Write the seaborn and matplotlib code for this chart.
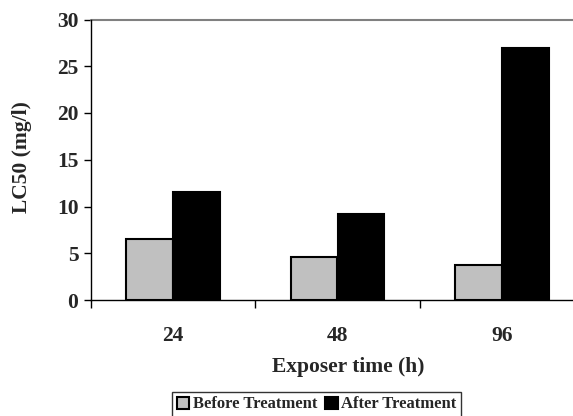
import pandas as pd
import matplotlib
matplotlib.use("Agg")
import matplotlib.pyplot as plt
import seaborn as sns

# data
times = ["24", "48", "96"]
before_treatment = [6.5, 4.6, 3.7]
after_treatment = [11.6, 9.2, 26.9]
series_names = ["Before Treatment", "After Treatment"]
y_ticks = [0, 5, 10, 15, 20, 25, 30]

df = pd.DataFrame({
    "time": times * 2,
    "LC50": before_treatment + after_treatment,
    "group": [series_names[0]] * 3 + [series_names[1]] * 3,
})

sns.set_style("white")
plt.rcParams["font.family"] = ["Liberation Serif", "DejaVu Serif"]
plt.rcParams["font.weight"] = "bold"

W, H = 573, 416
fig = plt.figure(figsize=(W / 100, H / 100), dpi=100)
ax = fig.add_axes([91 / W, (H - 300) / H, (584 - 91) / W, (300 - 19.5) / H])

sns.barplot(
    data=df, x="time", y="LC50", hue="group",
    palette=["#c0c0c0", "#000000"],
    width=0.57, edgecolor="black", linewidth=1.5,
    saturation=1, ax=ax, legend=True,
)

ax.set_ylim(0, 30)
ax.set_xlim(-0.5, 2.5)
ax.set_yticks(y_ticks)
ax.set_xticks([0, 1, 2])
ax.set_xticks([-0.5, 0.5, 1.5, 2.5], minor=True)
ax.tick_params(axis="x", which="major", length=0, pad=19, labelsize=15.5)
ax.tick_params(axis="x", which="minor", length=6, width=1, direction="out", color="black", bottom=True)
ax.tick_params(axis="y", length=5, width=1, direction="out", color="black", left=True, pad=4, labelsize=15.5)
for lab in ax.get_xticklabels() + ax.get_yticklabels():
    lab.set_fontweight("bold")

ax.axhline(30, color="#808080", linewidth=1.5, clip_on=False)
for side in ["top", "right"]:
    ax.spines[side].set_visible(False)
for side in ["left", "bottom"]:
    ax.spines[side].set_color("black")
    ax.spines[side].set_linewidth(1)

ax.set_xlabel("")
ax.set_ylabel("")
fig.text(22 / W, 1 - 157 / H, "LC50 (mg/l)", rotation=90, ha="center", va="center",
         fontsize=15.5, fontweight="bold")
fig.text(348 / W, 1 - 367 / H, "Exposer time (h)", ha="center", va="center",
         fontsize=15.5, fontweight="bold")

handles, labels = ax.get_legend_handles_labels()
ax.get_legend().remove()
leg = fig.legend(
    handles, labels, loc="upper center", bbox_to_anchor=(316.5 / W, 1 - 391.5 / H),
    ncol=2, frameon=True, fancybox=False, edgecolor="black",
    prop={"size": 12, "weight": "bold"},
    handlelength=0.75, handleheight=0.75, handletextpad=0.2,
    columnspacing=0.5, borderpad=0.3, borderaxespad=0,
)
leg.get_frame().set_linewidth(1)

fig.savefig("out.png", dpi=100)
